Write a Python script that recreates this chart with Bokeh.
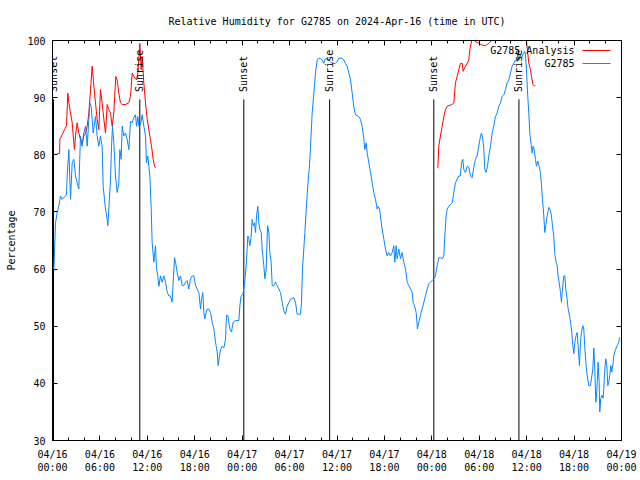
import math
from bokeh.plotting import figure
from bokeh.models import Range1d, LinearAxis, FixedTicker, Label, Arrow, ColumnDataSource
from bokeh.embed import file_html
from bokeh.resources import INLINE

# ---------------- data ----------------
title_text = "Relative Humidity for G2785 on 2024-Apr-16 (time in UTC)"
y_label = "Percentage"

# hours since 2024-04-16 00:00 UTC
x_tick_hours = [0, 6, 12, 18, 24, 30, 36, 42, 48, 54, 60, 66, 72]
x_tick_labels = ["04/16\n00:00", "04/16\n06:00", "04/16\n12:00", "04/16\n18:00",
                 "04/17\n00:00", "04/17\n06:00", "04/17\n12:00", "04/17\n18:00",
                 "04/18\n00:00", "04/18\n06:00", "04/18\n12:00", "04/18\n18:00",
                 "04/19\n00:00"]
x_minor_hours = [h for h in range(0, 73, 2) if h % 6 != 0]
y_ticks = [30, 40, 50, 60, 70, 80, 90, 100]

event_hours = [0.13, 11.05, 24.21, 35.07, 48.25, 59.02]
event_names = ["Sunset", "Sunrise", "Sunset", "Sunrise", "Sunset", "Sunrise"]
event_line_bottom = 30
event_line_top = 89.7
event_label_y = 91.0

obs_hours = [0.17, 0.25, 0.38, 0.59, 0.80, 1.01, 1.22, 1.65, 1.77, 1.86, 2.07, 2.28, 2.49, 2.70, 2.91,
             3.12, 3.33, 3.54, 3.75, 3.96, 4.18, 4.39, 4.60, 4.72, 4.89, 5.02, 5.15, 5.44, 5.65, 5.86,
             6.07, 6.28, 6.41, 6.58, 6.71, 6.92, 7.00, 7.13, 7.34, 7.47, 7.59, 7.76, 7.97, 8.18, 8.39,
             8.52, 8.69, 8.82, 9.03, 9.24, 9.45, 9.66, 9.87, 10.08, 10.29, 10.50, 10.63, 10.80, 10.92,
             11.14, 11.35, 11.56, 11.77, 11.89, 12.06, 12.19, 12.32, 12.49, 12.61, 12.82, 13.03, 13.16,
             13.33, 13.46, 13.67, 13.88, 14.09, 14.30, 14.51, 14.72, 14.93, 15.14, 15.27, 15.44, 15.57,
             15.78, 15.99, 16.20, 16.41, 16.62, 16.83, 17.04, 17.25, 17.46, 17.67, 17.89, 18.10, 18.31,
             18.52, 18.73, 18.86, 19.02, 19.15, 19.28, 19.36, 19.57, 19.78, 20.00, 20.21, 20.42, 20.63,
             20.84, 20.96, 21.13, 21.26, 21.47, 21.68, 21.89, 22.02, 22.19, 22.44, 22.65, 22.86, 23.16,
             23.58, 23.71, 23.87, 24.09, 24.30, 24.51, 24.72, 24.85, 24.97, 25.14, 25.27, 25.39, 25.56,
             25.69, 25.82, 25.98, 26.11, 26.24, 26.41, 26.53, 26.74, 26.87, 27.04, 27.21, 27.38, 27.50,
             27.67, 27.80, 28.01, 28.22, 28.43, 28.64, 28.85, 29.06, 29.27, 29.48, 29.69, 30.12, 30.54,
             30.75, 30.96, 31.38, 31.51, 31.63, 31.80, 31.93, 32.06, 32.22, 32.39, 32.52, 32.65, 32.86,
             33.07, 33.28, 33.49, 33.70, 33.91, 34.12, 34.33, 34.46, 34.63, 34.76, 34.97, 35.18, 35.39,
             35.81, 36.02, 36.23, 36.65, 36.86, 37.07, 37.29, 37.50, 37.71, 37.92, 38.13, 38.34, 38.76,
             38.97, 39.18, 39.40, 39.52, 39.69, 39.82, 40.03, 40.24, 40.45, 40.66, 40.87, 41.08, 41.21,
             41.38, 41.50, 41.71, 41.93, 42.14, 42.35, 42.56, 42.77, 42.98, 43.19, 43.32, 43.49, 43.61,
             43.82, 44.03, 44.24, 44.45, 44.67, 44.88, 45.09, 45.30, 45.51, 45.64, 45.80, 46.02, 46.18,
             46.35, 46.56, 46.77, 46.99, 47.20, 47.41, 47.62, 47.83, 48.04, 48.25, 48.46, 48.67, 48.88,
             49.09, 49.31, 49.52, 49.64, 49.81, 49.94, 50.15, 50.36, 50.57, 50.78, 50.99, 51.20, 51.41,
             51.62, 51.75, 51.92, 52.05, 52.26, 52.47, 52.68, 52.89, 53.10, 53.31, 53.52, 53.73, 53.94,
             54.16, 54.28, 54.45, 54.58, 54.70, 54.87, 55.04, 55.21, 55.42, 55.63, 55.84, 56.05, 56.26,
             56.48, 56.69, 56.90, 57.11, 57.32, 57.53, 57.74, 57.95, 58.16, 58.37, 58.58, 58.79, 58.88,
             59.00, 59.13, 59.22, 59.34, 59.51, 59.64, 59.76, 59.85, 59.97, 60.14, 60.27, 60.40, 60.57,
             60.69, 60.82, 60.99, 61.11, 61.24, 61.41, 61.58, 61.75, 61.87, 62.00, 62.17, 62.29, 62.42,
             62.59, 62.80, 63.01, 63.14, 63.26, 63.43, 63.56, 63.73, 63.86, 63.98, 64.11, 64.28, 64.40,
             64.53, 64.70, 64.83, 64.95, 65.12, 65.25, 65.42, 65.55, 65.71, 65.84, 65.97, 66.09, 66.26,
             66.39, 66.51, 66.68, 66.81, 66.93, 67.10, 67.23, 67.36, 67.52, 67.65, 67.86, 68.07, 68.20,
             68.37, 68.50, 68.62, 68.75, 68.87, 69.04, 69.17, 69.25, 69.38, 69.55, 69.68, 69.76, 69.89,
             70.01, 70.14, 70.27, 70.39, 70.52, 70.65, 70.77, 70.90, 71.03, 71.15, 71.28, 71.45, 71.66,
             71.78]
obs_rh = [60.0, 62.9, 68.1, 69.9, 71.0, 72.8, 72.2, 72.8, 73.1, 76.3, 80.9, 72.2, 78.6, 79.2, 76.3,
          75.1, 74.0, 83.3, 81.5, 83.8, 85.0, 81.5, 86.2, 89.1, 88.5, 86.2, 83.8, 86.7, 83.3, 81.5,
          83.3, 81.5, 74.5, 72.2, 70.5, 68.7, 67.6, 70.5, 75.7, 81.5, 85.0, 82.1, 76.3, 73.4, 75.1,
          80.9, 79.2, 85.0, 83.3, 83.8, 82.7, 80.9, 85.9, 85.6, 86.5, 87.0, 85.0, 86.7, 85.0,
          85.3, 87.0, 85.0, 83.3, 78.6, 79.8, 78.0, 76.3, 70.5, 64.7, 61.2, 64.1, 60.0,
          58.8, 57.0, 58.8, 57.7, 58.8, 57.7, 56.0, 55.3, 55.3, 54.2, 57.7, 62.0, 61.2,
          59.4, 58.0, 58.8, 57.1, 57.1, 57.7, 58.0, 56.5, 58.3, 58.8, 58.8, 57.1, 56.5,
          55.9, 53.0, 54.8, 55.9, 52.4, 51.3, 51.9, 53.0, 53.0, 52.4, 50.7, 49.5, 47.2,
          45.5, 43.1, 44.8, 45.9, 46.5, 46.2, 47.7, 51.9, 51.9, 49.5, 49.0, 50.7, 51.0,
          51.0, 53.6, 55.3, 55.6, 57.4, 60.6, 65.8, 65.2, 64.1, 65.8, 68.7, 67.6, 68.1,
          66.4, 69.3, 71.0, 68.1, 66.9, 66.4, 63.5, 60.6, 58.3, 60.0, 67.6, 66.4, 62.9,
          61.2, 57.1, 57.1, 57.7, 57.1, 56.5, 55.9, 54.2, 52.7, 52.1, 53.5, 54.7, 55.0,
          54.2, 52.1, 52.1, 54.2, 60.0, 63.5, 66.4, 69.3, 72.8, 76.3, 78.0, 81.5, 87.3,
          90.8, 94.3, 96.6, 96.9, 96.9, 96.6, 96.0, 96.6, 96.9, 96.6, 96.6, 96.3, 96.0,
          96.0, 96.3, 96.9, 96.9, 96.6, 96.0, 95.5, 94.3, 93.1, 90.8, 88.4, 87.0, 86.7,
          86.2, 85.0, 82.7, 80.9, 82.1, 80.3, 78.6, 76.9, 75.1, 73.4, 72.2, 70.5, 71.0,
          70.5, 69.3, 67.0, 65.2, 63.5, 62.3, 62.9, 62.3, 62.9, 64.1, 61.2, 64.1, 61.8,
          63.5, 61.8, 62.9, 61.2, 60.0, 57.7, 57.1, 56.5, 55.9, 54.2, 53.6, 52.4, 49.5,
          50.7, 51.9, 53.0, 54.2, 55.3, 56.5, 57.4, 57.7, 58.0, 58.3, 58.8, 60.6, 62.0,
          62.0, 61.8, 62.3, 65.8, 69.3, 70.5, 71.0, 71.3, 71.6, 73.4, 75.1, 75.7, 76.3,
          76.3, 78.6, 79.2, 77.4, 76.9, 78.0, 77.8, 76.3, 76.0, 77.8, 79.2, 79.8, 81.5,
          83.3, 83.8, 82.7, 81.0, 77.4, 76.9, 78.0, 79.8, 81.5, 83.8, 85.0, 86.7, 87.3,
          88.5, 89.1, 90.2, 90.5, 91.4, 92.6, 93.1, 94.3, 95.5, 96.0, 96.6, 96.3, 97.5,
          96.6, 97.2, 97.5, 96.9, 97.5, 97.8, 98.1, 97.5, 94.9, 90.2, 87.3, 83.8, 81.8,
          80.3, 81.5, 80.6, 79.2, 78.0, 78.9, 78.0, 76.9, 74.8, 72.2, 69.3, 66.4, 67.6,
          69.3, 70.8, 70.2, 69.3, 67.6, 65.8, 62.6, 61.2, 60.6, 58.8, 57.7, 55.9, 54.2,
          56.5, 58.8, 58.8, 56.5, 54.7, 53.0, 51.9, 50.7, 48.9, 46.6, 45.2, 47.2, 48.4,
          48.9, 46.6, 43.1, 47.2, 48.9, 50.1, 49.5, 46.2, 43.1, 41.4, 39.6, 39.6, 40.8,
          42.5, 46.2, 42.5, 36.7, 38.5, 43.7, 40.2, 35.0, 37.4, 37.9, 37.4, 39.1, 42.5,
          44.3, 43.1, 39.6, 40.2, 41.4, 43.1, 42.0, 43.1, 44.9, 45.5, 46.0, 46.6, 47.2,
          48.1]

nan = float("nan")
ana_hours = [0.59, 0.90, 0.93, 1.22, 1.52, 1.77, 1.94, 2.07, 2.28, 2.49, 2.62, 2.78, 2.91, 3.12, 3.33,
             3.54, 3.75, 3.96, 4.18, 4.39, 4.60, 4.81, 5.02, 5.23, 5.44, 5.65, 5.86, 6.07, 6.28, 6.50,
             6.71, 6.92, 7.13, 7.34, 7.55, 7.76, 8.01, 8.18, 8.39, 8.60, 8.82, 9.24, 9.66, 9.87, 10.08,
             10.29, 10.63, 10.80, 10.97, 11.05, 11.22, 11.35, 11.56, 11.77, 11.98, 12.32, 12.53, 12.74,
             12.91, 13.08, 30.0,
             48.76, 48.88, 49.09, 49.31, 49.52, 49.73, 49.94, 50.57, 50.78, 50.99, 51.20, 51.41, 51.62,
             51.84, 51.96, 52.26, 52.47, 52.68, 52.81, 52.98, 53.10, 53.31, 53.52, 53.94, 54.37, 54.79,
             55.21, 55.63, 56.0, 57.0, 58.0, 59.0, 59.8, 59.97, 60.14, 60.27, 60.48, 60.61, 60.78,
             60.99, 61.11]
ana_rh = [80.2, 80.2, 82.7, 83.5, 84.4, 85.1, 90.8, 89.1, 87.3, 85.6, 83.3, 80.9, 83.3, 85.6, 83.8,
          82.7, 81.8, 83.3, 83.8, 85.0, 87.3, 91.4, 95.5, 92.0, 89.1, 86.2, 84.4, 91.4, 89.1, 86.2,
          83.8, 88.8, 87.9, 87.3, 85.0, 87.3, 93.7, 93.1, 90.8, 89.1, 88.8, 88.8, 89.1, 90.2, 94.3,
          93.7, 93.1, 94.3, 97.8, 99.5, 94.9, 97.2, 92.5, 89.1, 86.2, 83.3, 81.5, 79.2,
          78.0, 77.7, nan,
          77.7, 81.5, 83.3, 85.0, 86.7, 87.9, 88.5, 88.8, 89.1, 92.6, 93.7, 94.9, 96.0,
          96.0, 94.6, 95.5, 96.0, 96.6, 98.4, 99.5, 100.5, 100.1, 99.8, 99.5, 99.2, 99.1,
          99.5, 100.1, 101.0, 102.0, 102.5, 102.0, 101.0, 100.0, 97.8, 96.0, 94.9, 93.7, 92.3,
          92.1, 92.1]

series_names = ["G2785 Analysis", "G2785"]
series_colors = ["#ff0000", "#0a84ff"]

# ---------------- figure ----------------
FONT = "DejaVu Sans Mono"
FS = "10px"

p = figure(width=640, height=480, output_backend="svg", toolbar_location=None,
           x_range=Range1d(0, 72), y_range=Range1d(30, 100),
           min_border_left=52, min_border_right=19, min_border_top=40, min_border_bottom=40,
           title=title_text)
p.background_fill_color = "white"
p.border_fill_color = "white"
p.outline_line_color = "black"
p.outline_line_width = 1
p.grid.visible = False

p.title.align = "center"
p.title.text_font = FONT
p.title.text_font_size = FS
p.title.text_font_style = "normal"
p.title.text_color = "black"
p.title.standoff = 27

def style_axis(ax, labels=True):
    ax.axis_line_color = "black"
    ax.major_tick_line_color = "black"
    ax.minor_tick_line_color = "black"
    ax.major_tick_in = 5
    ax.major_tick_out = 0
    ax.minor_tick_in = 3
    ax.minor_tick_out = 0
    ax.major_label_text_font = FONT
    if labels:
        ax.major_label_text_font_size = FS
        ax.major_label_text_color = "black"
    else:
        # mirrored ticks only: labels are not drawn
        ax.major_label_text_font_size = "1px"
        ax.major_label_text_color = None
        ax.major_label_standoff = 0

xb = p.xaxis[0]
xb.ticker = FixedTicker(ticks=x_tick_hours, minor_ticks=x_minor_hours)
xb.major_label_overrides = {h: lab for h, lab in zip(x_tick_hours, x_tick_labels)}
style_axis(xb)
xb.major_label_standoff = 8
xb.major_label_text_line_height = 1.2

yl = p.yaxis[0]
yl.ticker = FixedTicker(ticks=y_ticks, minor_ticks=[])
style_axis(yl)
yl.major_label_standoff = 7
yl.axis_label = y_label
yl.axis_label_text_font = FONT
yl.axis_label_text_font_size = FS
yl.axis_label_text_font_style = "normal"
yl.axis_label_text_color = "black"
yl.axis_label_standoff = 7

xt = LinearAxis(ticker=FixedTicker(ticks=x_tick_hours, minor_ticks=x_minor_hours))
style_axis(xt, labels=False)
p.add_layout(xt, "above")
yr = LinearAxis(ticker=FixedTicker(ticks=y_ticks, minor_ticks=[]))
style_axis(yr, labels=False)
p.add_layout(yr, "right")

# sunrise / sunset markers
ev = ColumnDataSource(dict(x=event_hours, y0=[event_line_bottom] * len(event_hours),
                           y1=[event_line_top] * len(event_hours)))
p.segment(x0="x", y0="y0", x1="x", y1="y1", source=ev, line_color="black", line_width=1)
for h, name in zip(event_hours, event_names):
    p.add_layout(Label(x=h, y=event_label_y, text=name, angle=math.pi / 2,
                       text_align="left", text_baseline="middle",
                       text_font=FONT, text_font_size=FS, text_color="black"))

# series
p.line(ana_hours, ana_rh, line_color=series_colors[0], line_width=1)
p.line(obs_hours, obs_rh, line_color=series_colors[1], line_width=1)

# gnuplot-style key (text right-aligned, sample line on the right)
key_text_right = 522
key_line_x0 = 530
key_line_x1 = 558
key_rows_y = [390, 377]
for name, color, yy in zip(series_names, series_colors, key_rows_y):
    p.add_layout(Label(x=key_text_right, y=yy, x_units="screen", y_units="screen", text=name,
                       text_align="right", text_baseline="middle",
                       text_font=FONT, text_font_size=FS, text_color="black"))
    p.add_layout(Arrow(end=None, x_start=key_line_x0, y_start=yy, x_end=key_line_x1, y_end=yy,
                       start_units="screen", end_units="screen",
                       line_color=color, line_width=1))

open("out.html", "w").write(file_html(p, INLINE))
